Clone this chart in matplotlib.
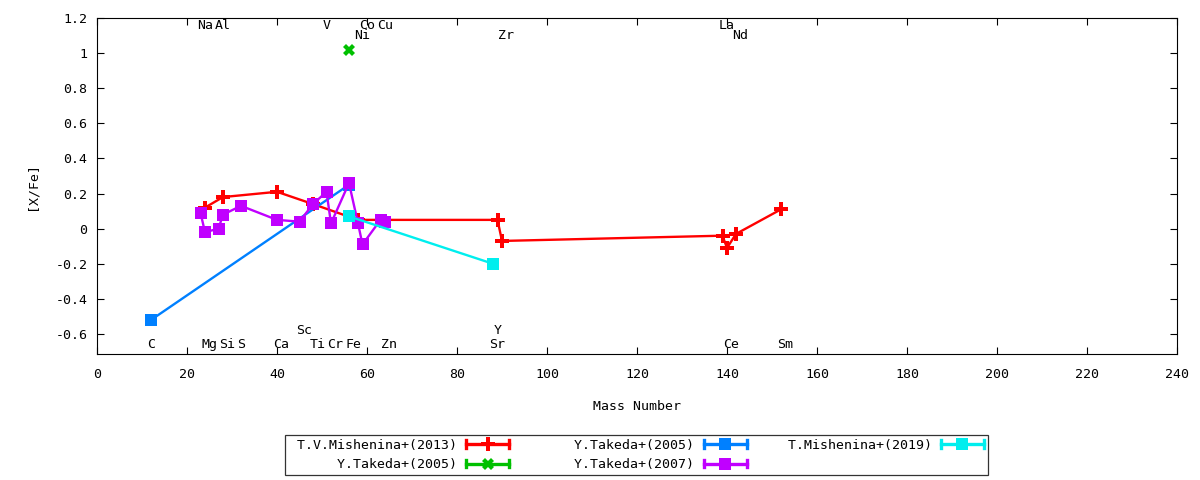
import matplotlib
matplotlib.use("Agg")
import matplotlib.pyplot as plt
from matplotlib.legend_handler import HandlerBase
from matplotlib.lines import Line2D

plt.rcParams['font.family'] = ['DejaVu Sans Mono']
plt.rcParams['font.size'] = 9.5

# T.V.Mishenina+(2013)
mish13_mass = [24, 28, 40, 48, 58, 89, 90, 139, 140, 142, 152]
mish13_val = [0.12, 0.18, 0.21, 0.14, 0.05, 0.05, -0.07, -0.04, -0.11, -0.03, 0.11]
# Y.Takeda+(2005) green
tak05b_mass = [56]
tak05b_val = [1.02]
# Y.Takeda+(2005) blue
tak05_mass = [12, 56]
tak05_val = [-0.52, 0.25]
# Y.Takeda+(2007)
tak07_mass = [23, 24, 27, 28, 32, 40, 45, 48, 51, 52, 56, 58, 59, 63, 64]
tak07_val = [0.09, -0.02, 0.00, 0.08, 0.13, 0.05, 0.04, 0.14, 0.21, 0.03, 0.26, 0.03, -0.09, 0.05, 0.04]
# T.Mishenina+(2019)
mish19_mass = [56, 88]
mish19_val = [0.07, -0.20]

# element labels: name, mass, row value
elem_names = ['Na', 'Al', 'V', 'Co', 'Cu', 'La',
              'Ni', 'Zr', 'Nd',
              'Sc', 'Y',
              'C', 'Mg', 'Si', 'S', 'Ca', 'Ti', 'Cr', 'Fe', 'Zn', 'Sr', 'Ce', 'Sm']
elem_mass = [23, 27, 51, 59, 63, 139,
             58, 90, 142,
             45, 89,
             12, 24, 28, 32, 40, 48, 52, 56, 64, 88, 140, 152]
elem_row = [1.16] * 6 + [1.10] * 3 + [-0.58] * 2 + [-0.66] * 12

series = [
    ("T.V.Mishenina+(2013)", mish13_mass, mish13_val, '#ff0000', 'P', 10),
    ("Y.Takeda+(2005)", tak05b_mass, tak05b_val, '#00c000', 'X', 9),
    ("Y.Takeda+(2005)", tak05_mass, tak05_val, '#0080ff', 's', 8),
    ("Y.Takeda+(2007)", tak07_mass, tak07_val, '#c000ff', 's', 8),
    ("T.Mishenina+(2019)", mish19_mass, mish19_val, '#00eeee', 's', 8),
]


class ErrLineHandler(HandlerBase):
    # gnuplot style key sample: line with end caps and a marker in the middle
    def create_artists(self, legend, orig, xdescent, ydescent, width, height, fontsize, trans):
        c = orig.get_color()
        y = height / 2 - ydescent
        x0, x1 = -xdescent, width - xdescent
        h = height * 0.4
        arts = [Line2D([x0, x1], [y, y], color=c, lw=2.4),
                Line2D([x0, x0], [y - h, y + h], color=c, lw=2.4),
                Line2D([x1, x1], [y - h, y + h], color=c, lw=2.4),
                Line2D([(x0 + x1) / 2], [y], color=c, marker=orig.get_marker(),
                       markersize=orig.get_markersize(), markeredgewidth=0, linestyle='none')]
        for a in arts:
            a.set_transform(trans)
        return arts


fig = plt.figure(figsize=(12, 4.8), dpi=100)
ax = fig.add_axes([97 / 1200, 1 - 354 / 480, 1080 / 1200, 336 / 480])

handles = []
for label, xs, ys, col, mk, ms in series:
    ln, = ax.plot(xs, ys, color=col, lw=1.7, marker=mk, markersize=ms,
                  markeredgewidth=0, label=label.rjust(21))
    handles.append(ln)

for name, m, r in zip(elem_names, elem_mass, elem_row):
    ax.annotate(name, (m, r), xytext=(-2.6, 0), textcoords='offset points',
                ha='left', va='center', fontsize=9.5)

ax.set_xlim(0, 240)
ax.set_ylim(-0.714, 1.2)
ax.set_xticks(range(0, 241, 20))
ax.set_yticks([-0.6, -0.4, -0.2, 0, 0.2, 0.4, 0.6, 0.8, 1, 1.2])
ax.set_yticklabels(['-0.6', '-0.4', '-0.2', '0', '0.2', '0.4', '0.6', '0.8', '1', '1.2'])
ax.tick_params(direction='in', top=True, right=True, length=5, width=0.8, pad=7)
ax.tick_params(axis='x', pad=10)
for s in ax.spines.values():
    s.set_linewidth(0.8)

ax.set_xlabel("Mass Number", labelpad=14)
ax.set_ylabel("[X/Fe]", labelpad=12)

leg = fig.legend(handles=handles, loc='center', bbox_to_anchor=(636.5 / 1200, 1 - 455 / 480),
                 ncol=3, markerfirst=False, handler_map={Line2D: ErrLineHandler()},
                 frameon=True, fancybox=False, edgecolor='black', handlelength=3.25,
                 columnspacing=1.3, labelspacing=0.5, borderpad=0.3, handletextpad=0.7)
leg.get_frame().set_linewidth(0.9)

fig.savefig("out.png", dpi=100)
